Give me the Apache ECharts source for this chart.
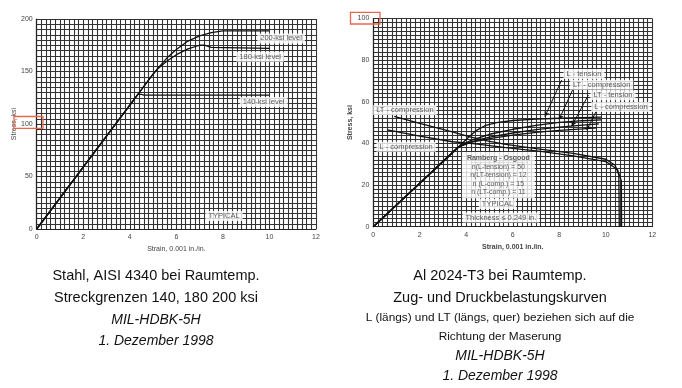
<!DOCTYPE html>
<html><head><meta charset="utf-8">
<script src="https://cdn.jsdelivr.net/npm/echarts@6/dist/echarts.min.js"></script>
<style>html,body{margin:0;padding:0;background:#fff}#c{width:682px;height:388px}</style>
</head><body><div id="c"></div>
<script>
// ---- Data (left: Steel AISI 4340) ----
const steel140 = [[0,0],[4.35,128.3],[4.5,128.2],[4.6,127.5],[10,127.5]];
const steel180 = [[0,0],[5.0,147.5],[5.2,152.5],[5.6,160],[6,166],[6.5,171.5],[7,175],[7.2,175.2],[7.5,173],[10,172]];
const steel200 = [[0,0],[5.0,147.5],[5.2,153],[5.6,163],[6,171],[6.5,179],[7,184],[7.5,187],[8,188.6],[10,188.6]];
// ---- Data (right: Al 2024-T3) ----
const alLTension = [[0,0],[4.1,43],[4.4,46],[4.8,48.5],[5.3,50],[6,51],[7,51.7],[8,52.1],[9,52.4],[9.8,52.6]];
const alLTComp   = [[0,0],[3.7,38.5],[4.2,41.5],[5,44.4],[6,46.8],[7,48.7],[8,50.1],[9,50.9],[9.8,51.3]];
const alLTTension= [[0,0],[3.6,37.8],[4.1,40.5],[5,43],[6,45],[7,46.6],[8,47.8],[9,48.8],[9.7,49.4]];
const alLComp    = [[0,0],[3.7,38.5],[4.2,40.5],[5,42.3],[6,44],[7,45.3],[8,46.3],[9,47],[9.6,47.5]];
const alLTCompTangent = [[0.9,53],[2,49.6],[3.4,45.6],[4.2,43],[5,41],[5.7,39.5],[7,37.5],[8.6,35.2],[10,32.4],[10.4,29.5],[10.56,25],[10.58,0]];
const alLCompTangent  = [[0.6,46.5],[2,43.5],[3.4,40.8],[4.3,39.9],[5.7,38],[7.2,36.2],[8.6,34],[10,31.3],[10.5,27.5],[10.67,22],[10.68,0]];
// ---- Tick labels ----
const xTicks = [0,2,4,6,8,10,12];
const steelYTicks = [0,50,100,150,200];
const alYTicks = [0,20,40,60,80,100];
// ---- Texts ----
const steelLabels = ['200-ksi level','180-ksi level','140-ksi level','TYPICAL'];
const alLabels = ['L - tension','LT - compression','LT - tension','L - compression','LT - compression','L - compression','TYPICAL','Thickness \u2264 0.249 in.'];
const roTitle = 'Ramberg - Osgood';
const roLines = ['n(L-tension) = 50','n(LT-tension) = 12','n (L-comp.) = 15','n (LT-comp.) = 11'];
const captionLeft = ['Stahl, AISI 4340 bei Raumtemp.','Streckgrenzen 140, 180 200 ksi','MIL-HDBK-5H','1. Dezember 1998'];
const captionRight = ['Al 2024-T3 bei Raumtemp.','Zug- und Druckbelastungskurven','L (l\u00e4ngs) und LT (l\u00e4ngs, quer) beziehen sich auf die','Richtung der Maserung','MIL-HDBK-5H','1. Dezember 1998'];

// annotation anchor points (data coords)
const steelLabelPos = [[10.5,181.5],[9.6,164],[9.75,121],[8.05,12.5]];
const alLabelPos = [[9.06,73.3],[9.82,68.2],[10.31,63.1],[10.65,57.5],[1.36,56],[1.41,38.4],[5.34,10.9],[5.49,4.4]];
const alArrows = [[[8.1,70.4],[7.38,52.9]],[[8.6,66.4],[7.99,51.5]],[[9.25,63.2],[8.53,48.3]],[[9.61,56],[9.18,46.4]]];

const FF = 'Liberation Sans, Arial, sans-serif';
const chart = echarts.init(document.getElementById('c'), null, {renderer:'canvas'});

function xAxisCfg(gi, bold){
  return {
    gridIndex: gi, type:'value', min:0, max:12, interval:2,
    name:'Strain, 0.001 in./in.', nameLocation:'middle', nameGap:14,
    nameTextStyle:{fontSize:7, color:'#444', fontFamily:FF, fontWeight: bold?'bold':'normal'},
    axisLine:{show:true, lineStyle:{color:'#222', width:1.2}},
    axisTick:{show:false},
    axisLabel:{fontSize:7, color:'#444', margin:5, fontFamily:FF,
      formatter: v => xTicks.indexOf(v) >= 0 ? String(v) : ''},
    splitLine:{show:true, lineStyle:{color:'#333', width:1.1}},
    minorTick:{show:false, splitNumber:10},
    minorSplitLine:{show:true, lineStyle:{color:'#333', width:1.1}}
  };
}
function yAxisCfg(gi, max, interval, ticks, bold, gap){
  return {
    gridIndex: gi, type:'value', min:0, max:max, interval:interval,
    name:'Stress, ksi', nameLocation:'middle', nameGap:gap, nameRotate:90,
    nameTextStyle:{fontSize:7, color:'#444', fontFamily:FF, fontWeight: bold?'bold':'normal'},
    axisLine:{show:true, lineStyle:{color:'#222', width:1.2}},
    axisTick:{show:false},
    axisLabel:{fontSize:7, color:'#444', margin:4, fontFamily:FF,
      formatter: v => ticks.indexOf(v) >= 0 ? String(v) : ''},
    splitLine:{show:true, lineStyle:{color:'#333', width:1.1}},
    minorTick:{show:false, splitNumber:10},
    minorSplitLine:{show:true, lineStyle:{color:'#333', width:1.1}}
  };
}
function curve(data, xi){
  return {type:'line', xAxisIndex:xi, yAxisIndex:xi, data:data, showSymbol:false, symbol:'none',
    lineStyle:{color:'#111', width:1.3}, silent:true, z:3, animation:false};
}
function labelSeries(xi, pos, texts, extra){
  return {type:'scatter', xAxisIndex:xi, yAxisIndex:xi, symbolSize:1, itemStyle:{color:'rgba(0,0,0,0)'},
    silent:true, z:10, animation:false,
    data: pos.map((p,i)=>({value:p, label:{formatter:texts[i]}})),
    label:Object.assign({show:true, position:'inside', fontSize:7.5, color:'#333', fontFamily:FF,
      backgroundColor:'#fff', padding:[1,3]}, extra||{})};
}

const arrowSeries = {
  type:'line', xAxisIndex:1, yAxisIndex:1, data:[], silent:true, animation:false, z:4,
  markLine:{silent:true, animation:false, symbol:['none','arrow'], symbolSize:[4,5],
    lineStyle:{color:'#111', width:1, type:'solid'}, label:{show:false},
    data: alArrows.map(a=>[{coord:a[0]},{coord:a[1]}])}
};

const roSeries = {
  type:'scatter', xAxisIndex:1, yAxisIndex:1, symbolSize:1, itemStyle:{color:'rgba(0,0,0,0)'},
  silent:true, z:10, animation:false,
  data:[{value:[5.38,24.8]}],
  label:{show:true, position:'inside', fontFamily:FF, fontSize:7, color:'#333', lineHeight:8.3,
    backgroundColor:'#fff', padding:[2,5], align:'center',
    formatter: '{t|' + roTitle + '}\n' + roLines.join('\n'),
    rich:{t:{fontSize:7, fontWeight:'bold', color:'#333', fontFamily:FF, lineHeight:9}}}
};
const roUnderline = {
  type:'line', xAxisIndex:1, yAxisIndex:1, data:[], silent:true, animation:false, z:11,
  markLine:{silent:true, animation:false, symbol:['none','none'], lineStyle:{color:'#333', width:0.8, type:'solid'},
    label:{show:false}, data:[[{coord:[4.2,30.9]},{coord:[6.62,30.9]}]]}
};

const graphics = [];
function caption(lines, cx, ys, styles){
  lines.forEach((t,i)=>{
    graphics.push({type:'text', x:cx, y:ys[i], silent:true,
      style:{text:t, font:styles[i], fill:'#111', textAlign:'center', textVerticalAlign:'middle'}});
  });
}
caption(captionLeft, 156, [276,298,320,341],
  ['14.5px '+FF,'14.5px '+FF,'italic 14px '+FF,'italic 14px '+FF]);
caption(captionRight, 500, [276,298,318,337,356,376],
  ['14.5px '+FF,'14.5px '+FF,'11.8px '+FF,'11.8px '+FF,'italic 14px '+FF,'italic 14px '+FF]);
graphics.push({type:'rect', shape:{x:14,y:116.5,width:29,height:11.8}, style:{fill:'none', stroke:'#e8674c', lineWidth:1.3}, z:100});
graphics.push({type:'rect', shape:{x:350.5,y:12.3,width:29.5,height:11.7}, style:{fill:'none', stroke:'#e8674c', lineWidth:1.3}, z:100});

chart.setOption({
  animation:false,
  backgroundColor:'#fff',
  grid:[
    {left:36.7, top:19, width:279.3, height:210, containLabel:false},
    {left:373.3, top:18.5, width:279, height:208.2, containLabel:false}
  ],
  xAxis:[xAxisCfg(0,false), xAxisCfg(1,true)],
  yAxis:[yAxisCfg(0,200,50,steelYTicks,false,19), yAxisCfg(1,100,20,alYTicks,true,19)],
  series:[
    curve(steel140,0), curve(steel180,0), curve(steel200,0),
    labelSeries(0, steelLabelPos, steelLabels),
    curve(alLTension,1), curve(alLTComp,1), curve(alLTTension,1), curve(alLComp,1),
    curve(alLTCompTangent,1), curve(alLCompTangent,1),
    arrowSeries,
    labelSeries(1, alLabelPos, alLabels),
    roSeries, roUnderline
  ],
  graphic: graphics
});
</script></body></html>
